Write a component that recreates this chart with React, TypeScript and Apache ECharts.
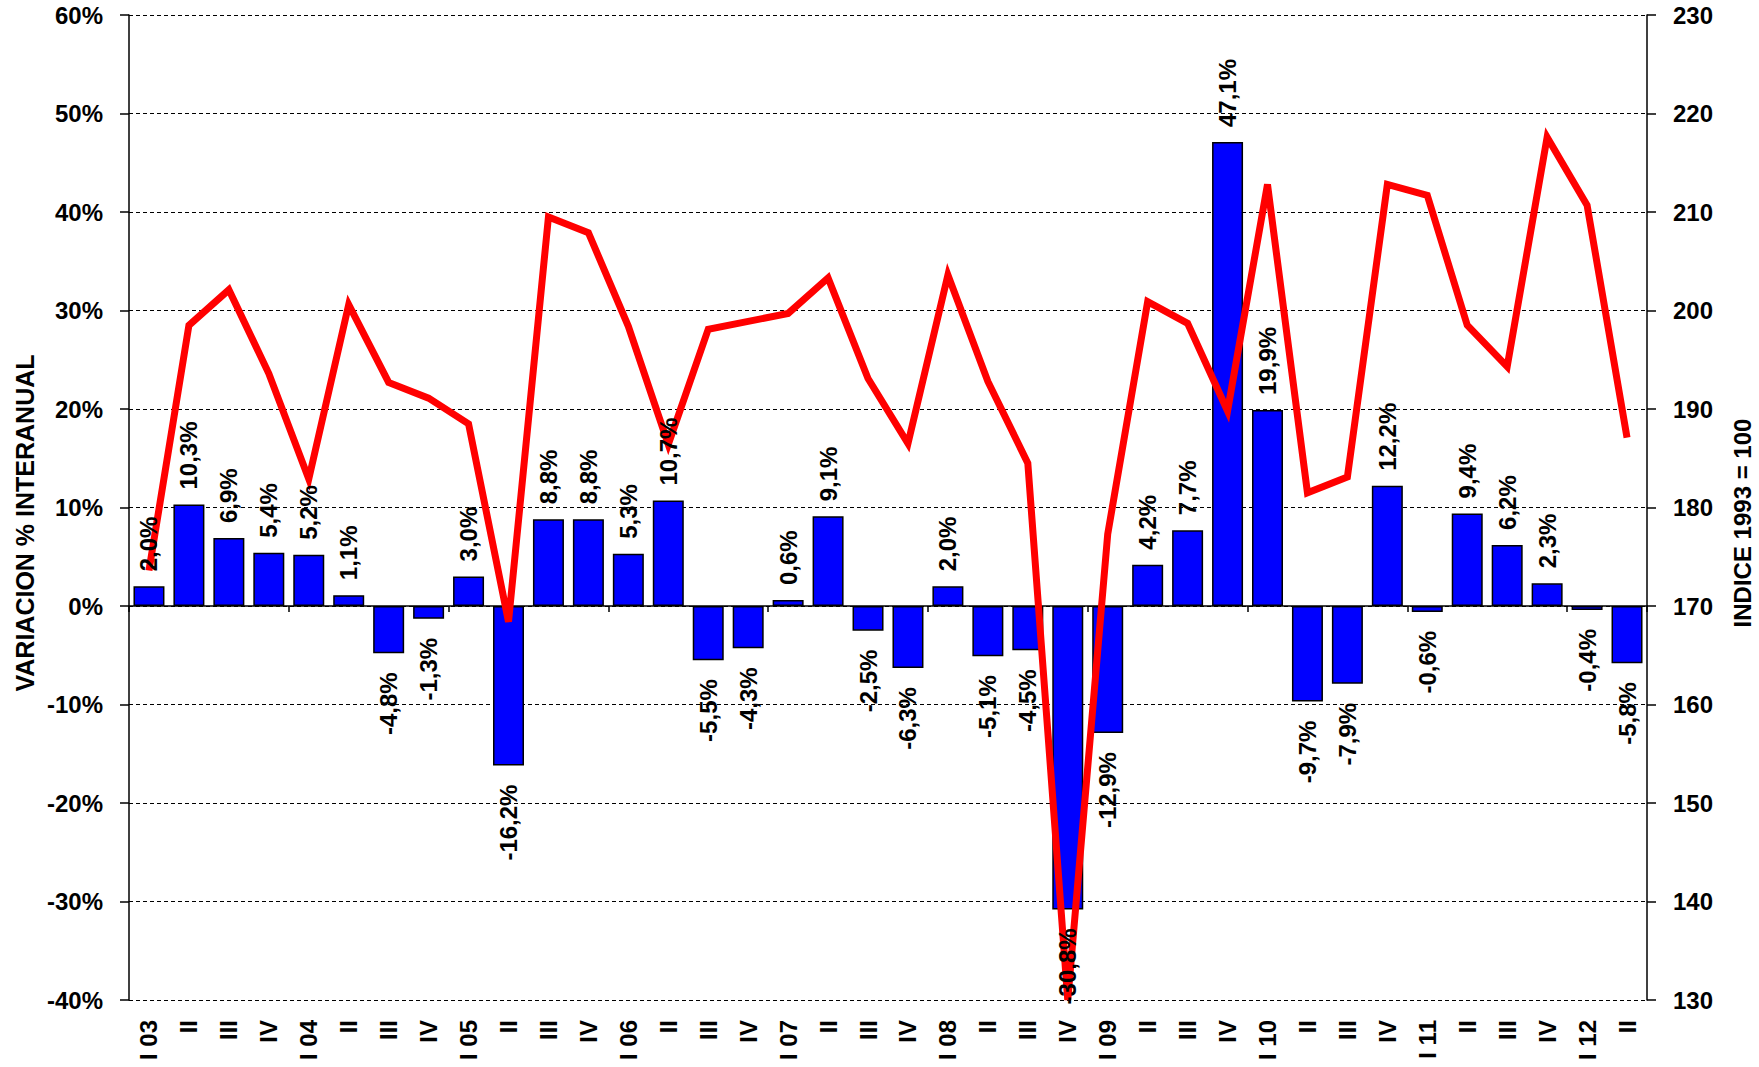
import React, { useEffect, useRef } from "react";
import * as echarts from "echarts";

const categories = [
  "I 03", "II", "III", "IV",
  "I 04", "II", "III", "IV",
  "I 05", "II", "III", "IV",
  "I 06", "II", "III", "IV",
  "I 07", "II", "III", "IV",
  "I 08", "II", "III", "IV",
  "I 09", "II", "III", "IV",
  "I 10", "II", "III", "IV",
  "I 11", "II", "III", "IV",
  "I 12", "II",
];

const variacion = [
  2.0, 10.3, 6.9, 5.4,
  5.2, 1.1, -4.8, -1.3,
  3.0, -16.2, 8.8, 8.8,
  5.3, 10.7, -5.5, -4.3,
  0.6, 9.1, -2.5, -6.3,
  2.0, -5.1, -4.5, -30.8,
  -12.9, 4.2, 7.7, 47.1,
  19.9, -9.7, -7.9, 12.2,
  -0.6, 9.4, 6.2, 2.3,
  -0.4, -5.8,
];

const indice = [
  173.6, 198.5, 202.1, 193.6,
  182.9, 200.6, 192.7, 191.1,
  188.5, 168.4, 209.5, 207.9,
  198.4, 186.4, 198.1, 198.9,
  199.7, 203.3, 193.1, 186.5,
  203.6, 192.8, 184.5, 130.0,
  177.3, 200.9, 198.7, 189.8,
  212.8, 181.5, 183.1, 212.8,
  211.7, 198.5, 194.3, 217.6,
  210.7, 187.1,
];

const leftAxisName = "VARIACION % INTERANUAL";
const rightAxisName = "INDICE 1993 = 100";

const FONT = '"Liberation Sans", Arial, sans-serif';

export default function App() {
  const ref = useRef<HTMLDivElement | null>(null);

  useEffect(() => {
    if (!ref.current) return;
    const chart = echarts.init(ref.current, null, { renderer: "svg" });

    const fmt = (v: number) => v.toFixed(1).replace(".", ",") + "%";

    const labelData = variacion.map((v) => ({
      value: v,
      label:
        v >= 0
          ? { position: "top", rotate: 90, align: "left", verticalAlign: "middle", distance: 15 }
          : { position: "bottom", rotate: 90, align: "right", verticalAlign: "middle", distance: 19 },
    }));

    const axisLabelStyle = {
      color: "#000",
      fontFamily: FONT,
      fontWeight: "bold",
      fontSize: 24,
    };

    chart.setOption({
      animation: false,
      backgroundColor: "#fff",
      grid: { left: 129, right: 112, top: 15, bottom: 67, containLabel: false },
      xAxis: [
        {
          type: "category",
          data: categories,
          position: "bottom",
          axisLine: { show: false, onZero: false },
          axisTick: { show: false },
          axisLabel: { ...axisLabelStyle, rotate: 90, interval: 0, margin: 20 },
          splitLine: { show: false },
        },
        {
          type: "category",
          data: categories,
          position: "bottom",
          axisLine: { show: true, onZero: true, onZeroAxisIndex: 0, lineStyle: { color: "#000", width: 1.5 } },
          axisTick: { show: true, interval: 3, length: 6, lineStyle: { color: "#000", width: 1.5 } },
          axisLabel: { show: false },
          splitLine: { show: false },
        },
      ],
      yAxis: [
        {
          type: "value",
          min: -40,
          max: 60,
          interval: 10,
          position: "left",
          axisLine: { show: true, lineStyle: { color: "#000", width: 1.5 } },
          axisTick: { show: true, length: 9, lineStyle: { color: "#000", width: 1.5 } },
          axisLabel: { ...axisLabelStyle, margin: 26, formatter: "{value}%" },
          splitLine: { show: true, lineStyle: { color: "#000", width: 1, type: [4, 3] } },
        },
        {
          type: "value",
          min: 130,
          max: 230,
          interval: 10,
          position: "right",
          axisLine: { show: true, lineStyle: { color: "#000", width: 1.5 } },
          axisTick: { show: true, length: 9, lineStyle: { color: "#000", width: 1.5 } },
          axisLabel: { ...axisLabelStyle, margin: 26 },
          splitLine: { show: false },
        },
      ],
      graphic: [
        {
          type: "text",
          x: 25,
          y: 523,
          rotation: Math.PI / 2,
          style: {
            text: leftAxisName,
            fill: "#000",
            fontFamily: FONT,
            fontWeight: "bold",
            fontSize: 25,
            align: "center",
            verticalAlign: "middle",
          },
        },
        {
          type: "text",
          x: 1742,
          y: 523,
          rotation: Math.PI / 2,
          style: {
            text: rightAxisName,
            fill: "#000",
            fontFamily: FONT,
            fontWeight: "bold",
            fontSize: 24,
            align: "center",
            verticalAlign: "middle",
          },
        },
      ],
      series: [
        {
          name: "Variación % interanual",
          type: "bar",
          xAxisIndex: 0,
          yAxisIndex: 0,
          data: variacion,
          barWidth: 31,
          itemStyle: { color: "#0000FF", borderColor: "#000", borderWidth: 1.5 },
          label: { show: false },
          z: 2,
        },
        {
          name: "Índice 1993 = 100",
          type: "line",
          xAxisIndex: 0,
          yAxisIndex: 1,
          data: indice,
          symbol: "none",
          clip: false,
          lineStyle: { color: "#FF0000", width: 7, join: "miter" },
          z: 3,
        },
        {
          name: "Etiquetas",
          type: "bar",
          xAxisIndex: 0,
          yAxisIndex: 0,
          data: labelData,
          barWidth: 31,
          barGap: "-100%",
          itemStyle: { color: "rgba(0,0,0,0)", borderWidth: 0 },
          silent: true,
          label: {
            show: true,
            color: "#000",
            fontFamily: FONT,
            fontWeight: "bold",
            fontSize: 24,
            formatter: (p: any) => fmt(p.value),
          },
          z: 5,
        },
      ],
    });

    return () => {
      chart.dispose();
    };
  }, []);

  return (
    <div
      ref={ref}
      style={{ position: "absolute", left: 0, top: 0, width: "1759px", height: "1067px", background: "#fff" }}
    />
  );
}
